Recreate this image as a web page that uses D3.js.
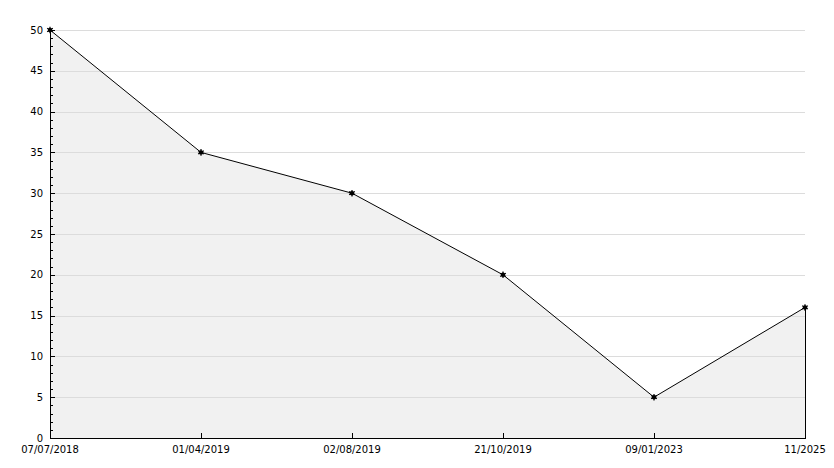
<!DOCTYPE html>
<html>
<head>
<meta charset="utf-8">
<style>
  body { margin: 0; background: #fff; }
  svg { display: block; }
  text { font: 10px "DejaVu Sans", sans-serif; fill: #000; }
  .grid line { stroke: #dcdcdc; stroke-width: 1; shape-rendering: crispEdges; }
  .axis path, .axis line { stroke: #000; fill: none; shape-rendering: crispEdges; }
  .area { fill: #f1f1f1; stroke: none; }
  .line { fill: none; stroke: #000; stroke-width: 1; }
</style>
</head>
<body>
<svg width="834" height="468"></svg>
<script src="https://cdn.jsdelivr.net/npm/d3@7"></script>
<script>
var dates = ["07/07/2018", "01/04/2019", "02/08/2019", "21/10/2019", "09/01/2023", "11/2025"];
var values = [50, 35, 30, 20, 5, 16];
var yTicks = [0, 5, 10, 15, 20, 25, 30, 35, 40, 45, 50];

var svg = d3.select("svg"),
    margin = {top: 30, right: 29, bottom: 30, left: 50},
    width = +svg.attr("width") - margin.left - margin.right,
    height = +svg.attr("height") - margin.top - margin.bottom;

var x = d3.scalePoint().domain(dates).range([0, width]);
var y = d3.scaleLinear().domain([0, 50]).range([height, 0]);

var data = dates.map(function(d, i) { return {date: d, value: values[i]}; });

var g = svg.append("g")
    .attr("transform", "translate(" + margin.left + "," + margin.top + ")");

// area under line
var area = d3.area()
    .x(function(d) { return x(d.date); })
    .y0(height)
    .y1(function(d) { return y(d.value); });

g.append("path")
    .datum(data)
    .attr("class", "area")
    .attr("d", area);

// grid
g.append("g")
    .attr("class", "grid")
    .selectAll("line")
    .data(yTicks.filter(function(t) { return t > 0; }))
    .enter().append("line")
    .attr("x1", 0)
    .attr("x2", width)
    .attr("y1", function(d) { return Math.round(y(d)) + 0.5; })
    .attr("y2", function(d) { return Math.round(y(d)) + 0.5; });

// right edge of the area
var last = data[data.length - 1];
g.append("line")
    .attr("x1", x(last.date)).attr("x2", x(last.date))
    .attr("y1", y(last.value)).attr("y2", height)
    .attr("stroke", "#000")
    .style("shape-rendering", "crispEdges");

var line = d3.line()
    .x(function(d) { return x(d.date); })
    .y(function(d) { return y(d.value); });

g.append("path")
    .datum(data)
    .attr("class", "line")
    .attr("d", line);

// y axis: minor ticks every unit, major every 5, drawn inward
var yMinor = d3.axisRight(y).tickValues(d3.range(0, 51, 1)).tickSize(3).tickFormat("");
g.append("g").attr("class", "axis").call(yMinor).select(".domain").remove();

var yAxis = d3.axisRight(y).tickValues(yTicks).tickSize(5).tickSizeOuter(0).tickFormat("");
g.append("g").attr("class", "axis").call(yAxis);

g.append("g")
    .selectAll("text")
    .data(yTicks)
    .enter().append("text")
    .attr("x", -7)
    .attr("y", function(d) { return y(d); })
    .attr("dy", "0.35em")
    .attr("text-anchor", "end")
    .text(function(d) { return d; });

// x axis
var xAxis = d3.axisTop(x).tickSize(5).tickSizeOuter(0).tickFormat("");
g.append("g")
    .attr("class", "axis")
    .attr("transform", "translate(0," + height + ")")
    .call(xAxis);

g.append("g")
    .selectAll("text")
    .data(dates)
    .enter().append("text")
    .attr("x", function(d) { return x(d); })
    .attr("y", height + 15)
    .attr("text-anchor", "middle")
    .text(function(d) { return d; });

// markers: small filled blob with spikes
var marks = g.append("g")
    .selectAll("g")
    .data(data)
    .enter().append("g")
    .attr("transform", function(d) { return "translate(" + x(d.date) + "," + y(d.value) + ")"; });

marks.append("circle")
    .attr("r", 2.2)
    .attr("fill", "#000");

marks.append("path")
    .attr("d", d3.symbol().type(d3.symbolAsterisk).size(30))
    .attr("fill", "none")
    .attr("stroke", "#000")
    .attr("stroke-width", 1.2);
</script>
</body>
</html>
